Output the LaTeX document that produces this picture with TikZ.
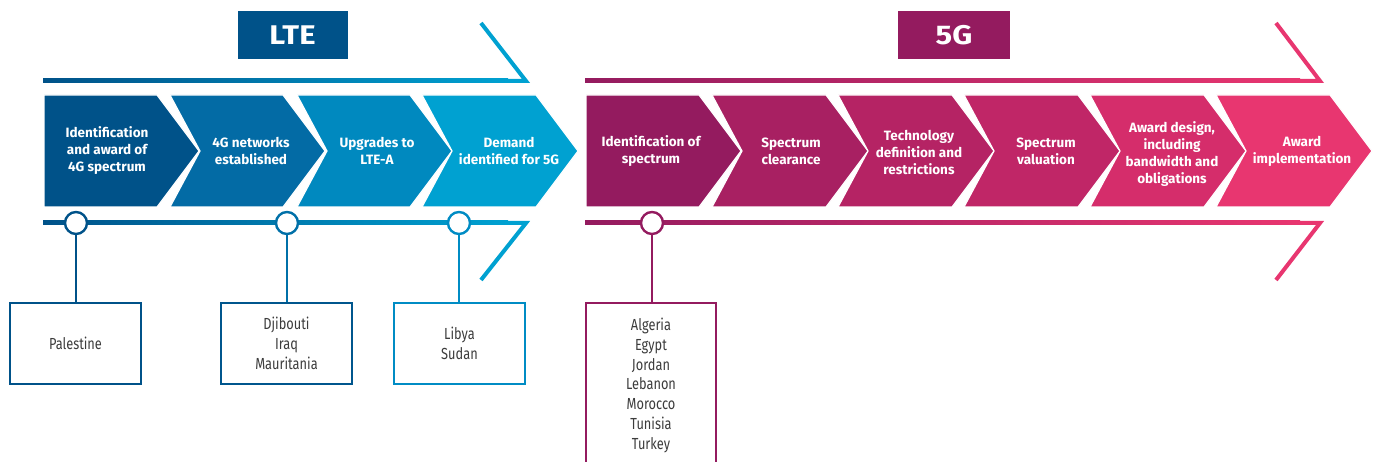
\documentclass[tikz,border=0pt]{standalone}
\usepackage{fontspec}
\setmainfont{Fira Sans}
\newfontfamily\headf{Fira Sans}[FakeStretch=1.15]
\newfontfamily\lightf{Fira Sans}[FakeStretch=0.8]
\definecolor{lte1}{RGB}{0,82,137}
\definecolor{lte2}{RGB}{3,107,165}
\definecolor{lte3}{RGB}{0,137,191}
\definecolor{lte4}{RGB}{0,161,209}
\definecolor{ltemid}{RGB}{0,112,168}
\definecolor{lteend}{RGB}{0,140,196}
\definecolor{g1}{RGB}{148,27,95}
\definecolor{g2}{RGB}{168,32,98}
\definecolor{g3}{RGB}{181,35,100}
\definecolor{g4}{RGB}{192,38,103}
\definecolor{g5}{RGB}{213,45,107}
\definecolor{g6}{RGB}{232,54,112}
\definecolor{txt}{RGB}{60,60,60}
\begin{document}
\begin{tikzpicture}[x=1pt,y=-1pt,
  head/.style={minimum width=110, minimum height=48, inner sep=0pt, text=white,
    font=\headf\bfseries\fontsize{27}{30}\selectfont},
  ctext/.style={align=center, text=white, inner sep=0pt,
    font=\bfseries\fontsize{13.5}{17}\selectfont},
  dot/.style={circle, minimum size=22, inner sep=0pt, fill=white, line width=2.4},
  cbox/.style={rectangle, fill=white, line width=2.2, minimum width=131, minimum height=81,
    inner sep=0pt, anchor=north, align=center, text=txt, font=\lightf\fontsize{16}{19.8}\selectfont},
  conn/.style={line width=2.2},
  chev/.style={draw=white, line width=1.2},
  bar/.style={line width=4, line join=miter}
]
\useasboundingbox (0,0) rectangle (1375,462);
\clip (0,0) rectangle (1375,462);

% headings
\node[head, fill=lte1] (lte) at (292.5,35) {LTE};
\node[head, fill=g1, minimum width=112] (fiveg) at (954,35) {5G};

% LTE lines
\shade[left color=lte1, right color=lte4] (43,79) rectangle (508,83);
\draw[bar, lte4] (481,23) -- (526,81) -- (505,81);
\shade[left color=lte1, right color=lte4] (43,221) rectangle (508,225);
\draw[bar, lte4] (505,223) -- (526,223) -- (481,280);

% 5G lines
\shade[left color=g1, right color=g6] (585,79) rectangle (1300,83);
\draw[bar, g6] (1276,23) -- (1320,81) -- (1297,81);
\shade[left color=g1, right color=g6] (585,221) rectangle (1300,225);
\draw[bar, g6] (1297,223) -- (1320,223) -- (1276,280);

% chevrons
\foreach \L/\R/\c/\n in {44/157/lte1/0, 170/283/lte2/30, 297/410/lte3/30, 422/536/lte4/30,
  586/699/g1/0, 712/826/g2/30, 838/952/g3/30, 964/1078/g4/30, 1090/1204/g5/30, 1216/1330/g6/30}
  \filldraw[chev, fill=\c] (\L,95) -- (\R,95) -- ({\R+42},151) -- (\R,207) -- (\L,207) -- ({\L+\n},151) -- cycle;

% chevron texts
\node[ctext] (s1) at (107,151) {Identification\\and award of\\4G spectrum};
\node[ctext] (s2) at (251,151) {4G networks\\established};
\node[ctext] (s3) at (377,151) {Upgrades to\\LTE-A};
\node[ctext] (s4) at (509,151) {Demand\\identified for 5G};
\node[ctext] (t1) at (651,151) {Identification of\\spectrum};
\node[ctext] (t2) at (791,151) {Spectrum\\clearance};
\node[ctext] (t3) at (919,152) {Technology\\definition and\\restrictions};
\node[ctext] (t4) at (1046,151) {Spectrum\\valuation};
\node[ctext] (t5) at (1172,154) {Award design,\\including\\bandwidth and\\obligations};
\node[ctext] (t6) at (1302,151) {Award\\implementation};

% markers and boxes
\node[dot, draw=lte1] (c1) at (76,223) {};
\node[dot, draw=ltemid] (c2) at (287,223) {};
\node[dot, draw=lteend] (c3) at (459,223) {};
\node[dot, draw=g1] (c4) at (652,223) {};

\node[cbox, draw=lte1] (b1) at (75.5,302) {Palestine};
\node[cbox, draw=lte1!85!lte2] (b2) at (286.5,302) {Djibouti\\Iraq\\Mauritania};
\node[cbox, draw=lteend] (b3) at (459.5,302) {Libya\\Sudan};
\node[cbox, draw=g1, minimum width=130, minimum height=0pt, inner ysep=15pt] (b4) at (651,302)
  {Algeria\\Egypt\\Jordan\\Lebanon\\Morocco\\Tunisia\\Turkey};

\draw[conn, lte1] (c1) -- (c1 |- b1.north);
\draw[conn, ltemid] (c2) -- (c2 |- b2.north);
\draw[conn, lteend] (c3) -- (c3 |- b3.north);
\draw[conn, g1] (c4) -- (c4 |- b4.north);
\end{tikzpicture}
\end{document}
